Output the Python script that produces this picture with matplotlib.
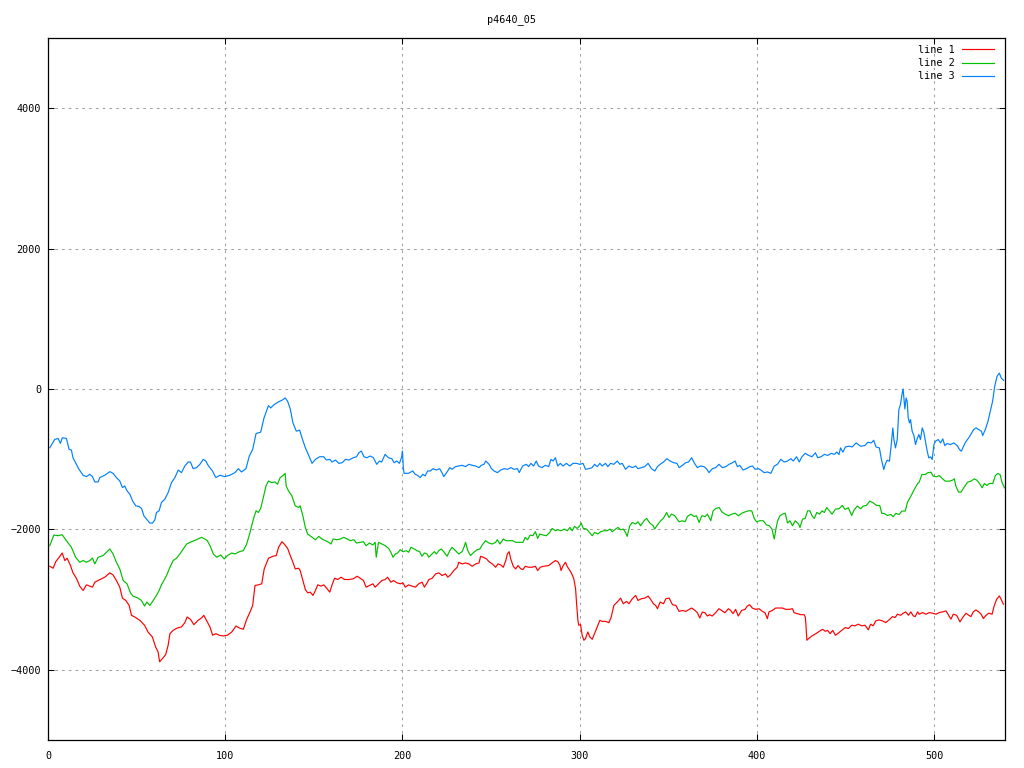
import matplotlib
matplotlib.use("Agg")
import matplotlib.pyplot as plt

# line 1 (red)
red_x = [1, 2.9, 4.4, 6.3, 8, 9.5, 10.8, 12.7, 14.1, 16, 17.9, 19.8, 21.7, 23.6, 25.1, 26.4, 28.3, 30.2, 32, 34.9,
         36.7, 38.6, 40.5, 42, 43.9, 45.8, 47.1, 49, 51.8, 54.5, 56.4, 58.9, 60.7, 62.1, 63, 64.6, 66.4, 67.8, 68.8, 70.6,
         72.9, 75.3, 77.2, 78.5, 80.4, 82.3, 84.7, 86.6, 87.9, 89.9, 91.4, 92.9, 94.7, 96.6, 98.9, 101.2, 103.7, 106.1, 108, 110.2,
         112.1, 114, 115.5, 116.8, 118.7, 120.6, 122, 124.4, 126.9, 128.8, 130.1, 132, 133.3, 135.2, 136.7, 138.2, 139.5, 141.4, 142.3, 143.8,
         145.2, 146.5, 148, 149.5, 150.9, 152.2, 154.1, 155.6, 157.5, 159, 160.3, 161.7, 163.5, 165.4, 167.3, 169.8, 172.2, 174.5, 176.1, 178,
         179.5, 181.4, 183.3, 184.6, 186.5, 188.4, 190.3, 191.6, 193.5, 195, 196.9, 198.8, 200.3, 201.6, 203.5, 205.4, 207.3, 209.2, 211.1, 212.4,
         213.6, 214.9, 216.8, 218.7, 220.5, 222.4, 224.3, 225.6, 227.1, 229, 230.9, 231.8, 233.7, 235.6, 237.5, 239.4, 241.3, 243.2, 244.1, 245.6,
         247.5, 248.8, 250.7, 252.6, 253.9, 255.4, 256.9, 258.3, 259.2, 260.2, 261.1, 262.6, 263.9, 265.2, 266.8, 268, 269.3, 271.2, 273.1, 275,
         276.3, 277.8, 279.7, 282.5, 284.4, 286.3, 287.6, 288.8, 289.5, 290.7, 292, 292.9, 294.5, 295.8, 296.7, 297.7, 298.2, 299, 299.5, 300.5,
         301.4, 302.4, 303.3, 304.6, 305.7, 307.1, 308.4, 309.9, 311.4, 312.7, 314.6, 316.5, 317.8, 319.3, 321.2, 323.1, 324.6, 326.5, 327.8, 329.7,
         331.6, 332.9, 334.8, 336.7, 338.6, 340.1, 341.6, 342.9, 343.9, 345.4, 347.3, 348.6, 350.5, 352.4, 354.3, 356.1, 358, 359.9, 361.8, 363.2,
         365.1, 366.4, 367.8, 369.2, 370.7, 372, 373.3, 374.8, 376.7, 378.6, 380.1, 382, 383.9, 385.2, 386.5, 388, 389.5, 391.4, 393.3, 394.6,
         395.9, 397.4, 399.3, 401.2, 403.1, 404.6, 405.9, 406.8, 408.7, 410.6, 412.5, 414.4, 416.3, 418.2, 420.1, 421, 422.9, 424.8, 426.7, 427.3,
         427.7, 428.2, 429.6, 431.1, 433.3, 435.2, 437.1, 438.6, 439.9, 441.3, 442.8, 444.3, 445.6, 448.2, 450, 451.6, 453.5, 455.3, 457.2, 459.1,
         461, 462.9, 464.2, 465.6, 467.1, 469, 470.8, 472.7, 474.6, 476.5, 478, 479.3, 481.2, 482.5, 484, 485.5, 486.9, 488.2, 489.3, 490.7,
         491.6, 493.5, 495.4, 497.3, 499.1, 501, 502.9, 504.8, 506.7, 508.2, 509.5, 510.8, 512.7, 514.6, 516.1, 518, 519.5, 520.8, 522.1, 523.6,
         525.2, 526.5, 527.8, 529.3, 530.8, 532.7, 534, 535.3, 536.8, 537.8, 539.1]
red_y = [-2525, -2553, -2459, -2397, -2336, -2444, -2411, -2515, -2619, -2695, -2808, -2870, -2790, -2808, -2823, -2752, -2728, -2704, -2681, -2619,
         -2648, -2728, -2823, -2979, -3012, -3083, -3224, -3248, -3295, -3366, -3461, -3532, -3674, -3745, -3886, -3839, -3783, -3650, -3485, -3438,
         -3405, -3390, -3329, -3248, -3281, -3357, -3295, -3262, -3224, -3319, -3390, -3508, -3485, -3508, -3518, -3508, -3461, -3376, -3405, -3423,
         -3281, -3177, -3083, -2799, -2790, -2775, -2563, -2411, -2383, -2373, -2255, -2175, -2208, -2270, -2373, -2468, -2563, -2553, -2586, -2728,
         -2856, -2903, -2894, -2941, -2870, -2790, -2808, -2790, -2846, -2894, -2790, -2695, -2714, -2681, -2714, -2714, -2704, -2667, -2695, -2728,
         -2823, -2799, -2775, -2823, -2775, -2728, -2714, -2681, -2752, -2728, -2761, -2775, -2761, -2823, -2790, -2808, -2823, -2775, -2752, -2823,
         -2775, -2714, -2695, -2634, -2619, -2657, -2634, -2681, -2648, -2586, -2539, -2468, -2492, -2478, -2492, -2525, -2492, -2478, -2383, -2397,
         -2421, -2459, -2492, -2539, -2492, -2506, -2539, -2444, -2350, -2317, -2421, -2529, -2563, -2515, -2563, -2572, -2525, -2539, -2539, -2525,
         -2586, -2539, -2525, -2515, -2478, -2444, -2459, -2506, -2586, -2515, -2468, -2525, -2586, -2648, -2704, -2846, -3035, -3295, -3366, -3357,
         -3508, -3579, -3556, -3461, -3532, -3565, -3485, -3390, -3295, -3310, -3310, -3329, -3248, -3083, -3035, -2979, -3059, -3026, -3059, -2988,
         -2941, -3012, -2988, -2979, -2950, -2998, -3059, -3083, -3130, -3035, -3059, -2988, -2979, -3073, -3083, -3168, -3154, -3168, -3139, -3120,
         -3154, -3187, -3262, -3177, -3187, -3234, -3215, -3234, -3187, -3130, -3154, -3187, -3130, -3154, -3201, -3139, -3234, -3154, -3139, -3092,
         -3073, -3120, -3139, -3130, -3168, -3187, -3272, -3177, -3154, -3120, -3120, -3120, -3139, -3139, -3130, -3187, -3201, -3215, -3215, -3248,
         -3366, -3579, -3546, -3518, -3485, -3452, -3423, -3452, -3438, -3485, -3438, -3508, -3485, -3431, -3398, -3412, -3365, -3374, -3350, -3374,
         -3365, -3431, -3350, -3374, -3303, -3289, -3303, -3327, -3289, -3242, -3256, -3208, -3223, -3194, -3175, -3223, -3175, -3232, -3242, -3175,
         -3208, -3185, -3208, -3185, -3194, -3208, -3185, -3175, -3161, -3223, -3279, -3208, -3223, -3317, -3256, -3194, -3223, -3242, -3175, -3147,
         -3175, -3208, -3270, -3223, -3194, -3208, -3080, -2995, -2948, -2995, -3066]

# line 2 (green)
green_x = [1, 3.3, 5.7, 8, 10.4, 13.2, 15.6, 17.9, 19.8, 21.7, 23.6, 25.1, 26.4, 28.3, 31.1, 33, 34.9, 36.7, 38.6, 40.5,
           42.4, 44.6, 46.5, 48, 50.8, 52.7, 54.5, 55.8, 57.5, 59.4, 61.2, 62.7, 64, 65.4, 66.9, 68.8, 70.6, 72.5, 74.4, 76.3,
           78.2, 81, 83.8, 86.6, 88.5, 89.9, 91.4, 93.3, 95.2, 97.5, 99.4, 101.3, 103.7, 105.5, 108, 110.2, 112.1, 114, 115.9, 117.4,
           118.7, 120, 121.5, 123, 124.4, 126.2, 128.1, 129.5, 131, 132.8, 133.8, 134.4, 135.7, 137.6, 139.5, 141.4, 142.3, 143.8, 145.2, 146.5,
           149, 150.9, 152.8, 154.6, 156.5, 158.4, 159.7, 160.9, 163.1, 165, 166.9, 168.8, 170.7, 172.6, 174.1, 176.1, 178, 179.5, 181.4, 183.3,
           184.6, 185.2, 186.5, 188.4, 190.3, 192.2, 193.5, 194.7, 196, 197.3, 198.8, 200.3, 202.2, 203.5, 204.8, 206.7, 208.2, 209.7, 211, 212.4,
           213.9, 214.8, 216.1, 218, 219.1, 220.5, 221.8, 223.3, 225.2, 226.7, 228, 229.9, 231.8, 233.7, 234.7, 235.6, 236.9, 238.4, 240.3, 242.2,
           243.7, 245, 246.9, 248.8, 250.7, 252.6, 253.5, 255, 256.9, 258.3, 260.2, 262.1, 264, 265.9, 268, 269.3, 270.6, 272.1, 273.6, 275,
           276.3, 277.5, 279.3, 281.2, 283.1, 284.5, 286.3, 287.6, 289.5, 291.4, 293, 294.5, 295.8, 297.1, 298.6, 300.1, 300.9, 302, 303.9, 305.8,
           307.1, 308.4, 310.3, 311.8, 313.7, 315.6, 317.1, 318.4, 320.3, 321.6, 323.1, 324.6, 325.9, 326.8, 328.3, 329.7, 331.6, 332.9, 334.4, 336.3,
           337.8, 339.6, 341.5, 342.3, 343.8, 345.7, 347.2, 349.1, 350.4, 351.8, 353.7, 355.2, 356.1, 358, 359.5, 360.8, 362.7, 364.6, 365.9, 367.4,
           368.9, 370.8, 372.1, 374, 375.3, 376.8, 378.7, 380.2, 382.1, 384, 385.8, 387.7, 389.6, 391.5, 393.4, 395.3, 397.1, 398.5, 399.8, 401.7,
           403.6, 405.5, 407, 408.5, 409.8, 410.8, 411.7, 413, 414.5, 416, 417.3, 418.6, 420.1, 421.6, 423.5, 424.3, 425.8, 427.3, 428.6, 429.9,
           431.1, 432.4, 433.8, 435.3, 436.8, 438.1, 439.4, 440.9, 442.4, 444.3, 446.3, 448.2, 449.7, 451.6, 453.5, 454.8, 456.7, 458.6, 459.9, 461.8,
           463.7, 465.6, 467.5, 469.3, 470.5, 471.8, 473.7, 475.6, 476.9, 478.4, 480.3, 481.8, 483.7, 485, 486.9, 488.8, 490.7, 491.6, 493.1, 495,
           496.3, 498.2, 499.5, 501.4, 502.9, 504.8, 506.3, 508.6, 510.4, 511.4, 512.3, 513.8, 515.2, 517.1, 518.9, 520.8, 522.7, 524.1, 525.6, 527.1,
           528.4, 529.7, 531.2, 533.1, 534.6, 535.9, 537.2, 538.4, 539.7]
green_y = [-2232, -2080, -2090, -2076, -2161, -2255, -2397, -2468, -2444, -2468, -2444, -2407, -2492, -2397, -2373, -2326, -2279, -2350, -2468, -2563,
           -2728, -2775, -2903, -2950, -2979, -3012, -3092, -3035, -3083, -3012, -2941, -2870, -2790, -2728, -2657, -2539, -2444, -2411, -2350, -2279,
           -2208, -2175, -2147, -2113, -2137, -2161, -2232, -2350, -2397, -2364, -2421, -2373, -2336, -2350, -2317, -2303, -2208, -2043, -1853, -1735,
           -1759, -1702, -1546, -1381, -1310, -1333, -1324, -1357, -1262, -1229, -1201, -1381, -1451, -1522, -1664, -1688, -1664, -1806, -1972, -2066,
           -2113, -2147, -2099, -2137, -2161, -2184, -2208, -2137, -2147, -2137, -2113, -2137, -2161, -2147, -2194, -2184, -2175, -2232, -2194, -2222,
           -2184, -2397, -2184, -2208, -2232, -2270, -2326, -2397, -2350, -2336, -2289, -2317, -2303, -2326, -2255, -2279, -2303, -2317, -2383, -2336,
           -2350, -2397, -2364, -2317, -2350, -2303, -2279, -2317, -2383, -2303, -2255, -2303, -2350, -2317, -2255, -2184, -2303, -2373, -2326, -2289,
           -2279, -2222, -2161, -2194, -2208, -2184, -2147, -2208, -2137, -2161, -2161, -2161, -2184, -2184, -2184, -2113, -2147, -2080, -2090, -2033,
           -2128, -2066, -2080, -2090, -2043, -1986, -2019, -2005, -2019, -1995, -2019, -1972, -2019, -1957, -1986, -1948, -1910, -1986, -1995, -2052,
           -2090, -2043, -2066, -2033, -2019, -2019, -1995, -2033, -1995, -1972, -2005, -1995, -2043, -2099, -1948, -1901, -1924, -1891, -1948, -1877,
           -1844, -1910, -1948, -1995, -1938, -1877, -1844, -1759, -1830, -1782, -1806, -1863, -1891, -1877, -1891, -1816, -1783, -1816, -1806, -1901,
           -1806, -1816, -1783, -1877, -1735, -1702, -1688, -1750, -1783, -1806, -1783, -1769, -1806, -1769, -1750, -1735, -1735, -1844, -1891, -1877,
           -1877, -1938, -1948, -1995, -2137, -1986, -1877, -1806, -1783, -1769, -1910, -1877, -1948, -1877, -1924, -1972, -1853, -1844, -1735, -1735,
           -1806, -1844, -1759, -1783, -1735, -1759, -1688, -1735, -1783, -1712, -1706, -1659, -1715, -1692, -1801, -1725, -1668, -1706, -1668, -1659,
           -1597, -1621, -1659, -1659, -1772, -1772, -1801, -1787, -1820, -1772, -1787, -1739, -1739, -1611, -1526, -1431, -1346, -1327, -1218, -1218,
           -1194, -1185, -1242, -1251, -1232, -1280, -1313, -1313, -1299, -1280, -1384, -1469, -1469, -1393, -1327, -1313, -1280, -1299, -1346, -1407,
           -1346, -1374, -1346, -1346, -1232, -1204, -1218, -1336, -1407]

# line 3 (blue)
blue_x = [1, 3.8, 5.7, 7, 8.1, 10.4, 11.9, 13.2, 14.1, 16, 17.5, 19.8, 21.7, 23.6, 25.1, 26.4, 28.3, 29.2, 32, 34.9,
          36.7, 38.6, 40.5, 42, 43.3, 44.6, 46.2, 47.7, 49.5, 51.4, 52.8, 54.1, 55.6, 57.5, 59, 60.3, 61.2, 62.7, 64, 65.9,
          67.8, 69.7, 71.6, 73.5, 75.3, 77.2, 79.1, 80.4, 81.9, 83.8, 85.7, 87.6, 89, 90.4, 92.8, 94.7, 97, 99.8, 102.6, 105.5,
          107.4, 109.2, 111.7, 113.6, 115.5, 117.4, 120, 121.9, 124.4, 125.7, 127.6, 130, 132, 133.9, 135.2, 136.7, 138.2, 140.1, 142, 143.3,
          145.2, 147.1, 149, 150.9, 153.3, 155.6, 157.1, 159, 160.3, 162.2, 164.1, 166, 167.9, 169.8, 172.2, 174.1, 175.4, 176.8, 178.3, 179.9,
          181.8, 183.6, 185.5, 187, 188.3, 190.2, 192.1, 194, 195.3, 196.8, 198.3, 199.6, 200, 200.5, 200.9, 203.4, 205.8, 207.2, 208.5, 210,
          211.5, 212.8, 214.2, 215.7, 217.2, 219.1, 221, 222.3, 223.3, 225.2, 226.7, 228, 229.9, 231.8, 233.7, 235.6, 237.5, 239.4, 241.3, 243.2,
          244.5, 246, 247, 248.9, 250.2, 251.7, 253.6, 255.5, 257.4, 259.3, 261.2, 263, 264.9, 265.9, 267.8, 269.9, 271.2, 272.5, 274, 275.5,
          276.8, 278.7, 280.6, 282.5, 283.8, 285, 286.3, 287.6, 289.1, 290.6, 292.5, 294.4, 296.3, 298.2, 300.1, 301.9, 303.3, 305.1, 307, 308.4,
          309.9, 311.4, 312.7, 314.6, 315.9, 317.4, 319.3, 321.2, 322.7, 324, 325.9, 327.8, 329.7, 331.6, 332.9, 334.8, 336.7, 338.6, 340.5, 342.4,
          343.9, 345.4, 347.3, 349.2, 351.1, 353, 354.9, 356.1, 358, 359.9, 361.4, 363.2, 364.6, 366.4, 368.3, 370.2, 371.5, 373, 374.9, 376.8,
          378.6, 380.5, 382.4, 384.3, 386.2, 387.7, 389, 390.3, 392.2, 394.1, 396, 397.5, 399, 400.9, 402.2, 404.1, 406, 407.9, 409.8, 411.6,
          413.5, 415.4, 417.3, 419.2, 420.5, 422.4, 423.9, 425.4, 427.3, 429.2, 431.1, 433, 434.3, 436.2, 438.1, 440, 441.9, 443.8, 445.1, 446.3,
          447.2, 448.5, 450, 451.9, 453.8, 456, 458.5, 460.9, 462.7, 464.6, 465.9, 467.2, 469.1, 470.3, 471.6, 472.6, 473.5, 474.8, 475.9, 476.7,
          477.3, 478.2, 479.2, 480.1, 481, 482, 482.5, 483.5, 484.2, 484.8, 485.4, 486.1, 486.7, 487.6, 488.6, 489.5, 490.4, 491.4, 492.3, 493.3,
          494.2, 495.1, 496.1, 497, 498, 498.9, 499.9, 500.8, 502.3, 503.6, 504.9, 506, 507.3, 509.2, 511.1, 513, 514.3, 515.4, 516.2, 517.7,
          519.5, 521, 522.3, 523.6, 525.2, 526.7, 527.4, 528.9, 530.4, 531.7, 533, 534.2, 535.5, 536.8, 537.9, 539.2]
blue_y = [-837, -719, -704, -775, -695, -704, -860, -870, -979, -1073, -1144, -1229, -1248, -1215, -1248, -1324, -1324, -1262, -1229, -1177,
          -1201, -1262, -1310, -1404, -1381, -1451, -1499, -1593, -1664, -1674, -1702, -1806, -1853, -1910, -1910, -1863, -1759, -1735, -1617, -1570,
          -1475, -1333, -1262, -1154, -1191, -1097, -1040, -1040, -1135, -1120, -1073, -1002, -1026, -1090, -1168, -1262, -1229, -1248, -1229, -1191,
          -1135, -1182, -1135, -955, -860, -634, -615, -411, -236, -270, -222, -184, -161, -128, -175, -284, -482, -600, -586, -695,
          -837, -946, -1059, -1002, -965, -965, -1012, -1002, -1040, -1012, -1059, -1050, -1002, -1012, -979, -965, -908, -884, -965, -979,
          -955, -979, -1073, -1026, -1040, -931, -979, -993, -1050, -1026, -1059, -965, -884, -1120, -1201, -1201, -1168, -1215, -1229, -1262,
          -1215, -1239, -1168, -1168, -1135, -1154, -1135, -1191, -1248, -1182, -1120, -1144, -1106, -1097, -1087, -1106, -1073, -1087, -1097, -1120,
          -1087, -1073, -1026, -1073, -1135, -1168, -1191, -1154, -1135, -1144, -1120, -1144, -1135, -1191, -1097, -1073, -1106, -1059, -1097, -1026,
          -1097, -1120, -1087, -1106, -1002, -1026, -979, -1097, -1059, -1097, -1059, -1097, -1059, -1059, -1073, -1059, -1144, -1135, -1120, -1073,
          -1106, -1059, -1097, -1059, -1106, -1059, -1073, -1026, -1073, -1059, -1144, -1097, -1120, -1097, -1135, -1120, -1106, -1059, -1135, -1168,
          -1106, -1073, -1040, -993, -1026, -1050, -1059, -1120, -1087, -1050, -1040, -979, -1050, -1120, -1097, -1106, -1135, -1191, -1135, -1120,
          -1073, -1120, -1106, -1073, -1050, -1026, -1106, -1087, -1154, -1135, -1106, -1097, -1144, -1135, -1154, -1191, -1182, -1201, -1097, -1073,
          -1002, -1040, -1026, -993, -1026, -965, -1040, -965, -917, -946, -965, -908, -979, -965, -931, -946, -917, -931, -898, -934,
          -839, -900, -825, -815, -825, -768, -815, -806, -758, -768, -730, -825, -839, -1005, -1147, -1062, -1014, -1028, -768, -554,
          -720, -839, -720, -294, -223, -57, 0, -284, -128, -175, -412, -483, -436, -602, -663, -791, -711, -649, -720, -554,
          -616, -744, -886, -981, -967, -1005, -791, -744, -720, -768, -711, -806, -777, -791, -768, -806, -862, -886, -839, -758,
          -697, -635, -578, -554, -578, -602, -663, -578, -460, -318, -175, 38, 180, 227, 156, 123]

title = "p4640_05"
x_ticks = [0, 100, 200, 300, 400, 500]
y_ticks = [-4000, -2000, 0, 2000, 4000]

mono = "DejaVu Sans Mono"
plt.rcParams["font.family"] = mono
plt.rcParams["font.size"] = 7.3

fig = plt.figure(figsize=(10.24, 7.68), dpi=100)
ax = fig.add_axes([48 / 1024, 1 - 740 / 768, (1005 - 48) / 1024, (740 - 38) / 768])

ax.plot(red_x, red_y, color="#ff0000", lw=0.85, label="line 1")
ax.plot(green_x, green_y, color="#00c000", lw=0.85, label="line 2")
ax.plot(blue_x, blue_y, color="#0080ff", lw=0.85, label="line 3")

ax.set_xlim(0, 540)
ax.set_ylim(-5000, 5000)
ax.set_xticks(x_ticks)
ax.set_yticks(y_ticks)
ax.grid(True, color="#a0a0a0", linestyle=(0, (2.5, 4)), linewidth=0.75)
ax.tick_params(direction="in", length=4.5, width=0.75, top=True, right=True,
               labelsize=7.3, pad=5)
ax.tick_params(axis="x", pad=8)
for s in ax.spines.values():
    s.set_linewidth(0.9)

fig.text(0.5, 1 - 20 / 768, title, ha="center", va="center", fontsize=7.3)

ax.legend(loc="upper right", bbox_to_anchor=(0.9885, 0.99), frameon=False,
          markerfirst=False, handlelength=3.2, handletextpad=0.7,
          labelspacing=0.3, borderpad=0, borderaxespad=0, fontsize=7.3)

fig.savefig("out.png", dpi=100)
